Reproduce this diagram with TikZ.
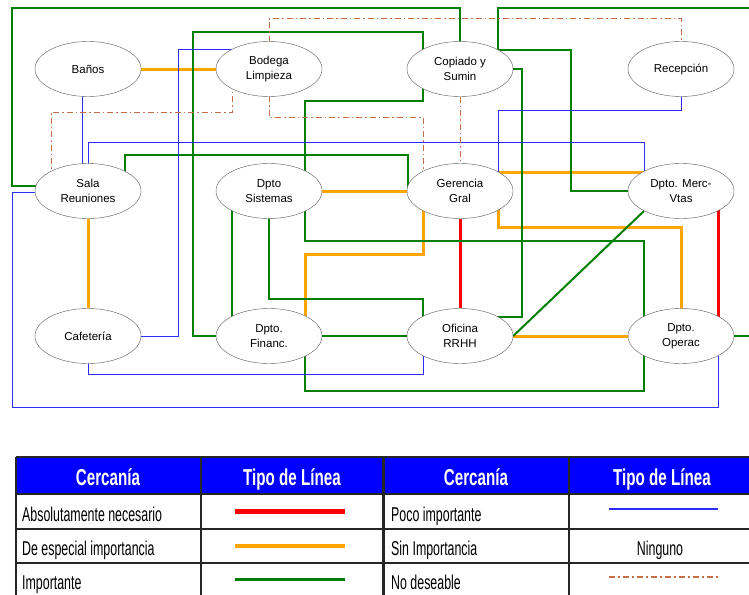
\documentclass[tikz,border=0pt]{standalone}
\usepackage{fontspec}
\setmainfont{Liberation Sans}
\newfontfamily\tablefont[FakeStretch=0.62]{Liberation Sans}
\newfontfamily\headfont[FakeStretch=0.66]{Liberation Sans}
\usetikzlibrary{shapes.geometric,calc}
\pgfdeclarelayer{bg}
\pgfsetlayers{bg,main}

\definecolor{necred}{RGB}{255,0,0}
\definecolor{espor}{RGB}{255,165,0}
\definecolor{impgreen}{RGB}{0,128,0}
\definecolor{pocoblue}{RGB}{45,45,255}
\definecolor{nodbrown}{RGB}{196,110,70}
\definecolor{headblue}{RGB}{0,0,255}

\begin{document}
\begin{tikzpicture}
  [x=1pt, y=-1pt,
   area/.style={ellipse, draw=black!65, fill=white, minimum width=106pt,
     minimum height=55pt, inner sep=0pt, align=center,
     font=\fontsize{11.5}{15}\selectfont},
   necesario/.style={necred, line width=3pt},
   especial/.style={espor, line width=3pt},
   importante/.style={impgreen, line width=2pt},
   poco/.style={pocoblue, line width=1pt},
   nodeseable/.style={nodbrown, line width=1pt,
     dash pattern=on 6pt off 3pt on 1.5pt off 3pt},
   celda/.style={anchor=base west, inner sep=0pt,
     font=\tablefont\fontsize{20}{22}\selectfont},
   cabeza/.style={anchor=base, inner sep=0pt, text=white,
     font=\headfont\bfseries\fontsize{23}{25}\selectfont}]
  \useasboundingbox (0,0) rectangle (749,594);

  \node[area] (banos)     at (88,69)   {Baños};
  \node[area] (bodega)    at (269,69)  {Bodega\\Limpieza};
  \node[area] (copiado)   at (460,69)  {Copiado y\\Sumin};
  \node[area] (recepcion) at (681,69)  {Recepción};
  \node[area] (sala)      at (88,191)  {Sala\\Reuniones};
  \node[area] (sistemas)  at (269,191) {Dpto\\Sistemas};
  \node[area] (gerencia)  at (460,191) {Gerencia\\Gral};
  \node[area] (merc)      at (681,191) {Dpto. Merc-\\Vtas};
  \node[area] (cafeteria) at (88,336)  {Cafetería};
  \node[area] (financ)    at (269,336) {Dpto.\\Financ.};
  \node[area] (rrhh)      at (460,336) {Oficina\\RRHH};
  \node[area] (operac)    at (681,336) {Dpto.\\Operac};

  \begin{pgfonlayer}{bg}
    % absolutely necessary
    \draw[necesario] (gerencia) -- (rrhh);
    \draw[necesario] ($(merc.center)+(37,0)$) -- ($(operac.center)+(37,0)$);
    % special importance
    \draw[especial] (banos) -- (bodega);
    \draw[especial] (sala) -- (cafeteria);
    \draw[especial] (sistemas) -- (gerencia);
    \draw[especial] (rrhh) -- (operac);
    \draw[especial] ($(gerencia.center)+(0,-19)$) -- ($(merc.center)+(0,-19)$);
    \draw[especial] (gerencia.center) ++(-37,0) |- (305,254) -- ($(financ.center)+(36,0)$);
    \draw[especial] (gerencia.center) ++(38,0) |- (681,227) -- (operac.center);
    % important
    \draw[importante] (sala.center) ++(0,-5) -| (12,8) -| (copiado.center);
    \draw[importante] (sala.center) ++(37,0) |- (408,155) -- ($(gerencia.center)+(-52,0)$);
    \draw[importante] (financ.center) -| (193,32) -| ($(copiado.center)+(-37,0)$);
    \draw[importante] (sistemas.center) ++(36,0) |- (423,101) -- ($(copiado.center)+(-37,0)$);
    \draw[importante] (sistemas.center) ++(-37,0) -- ($(financ.center)+(-37,0)$);
    \draw[importante] (sistemas.center) |- (423,299) -- ($(rrhh.center)+(-37,0)$);
    \draw[importante] (sistemas.center) ++(36,0) |- (644,241) -- ($(operac.center)+(-37,0)$);
    \draw[importante] (copiado.center) ++(0,-19) -| (571,191) -- (merc.center);
    \draw[importante] (copiado.center) ++(38,0) |- (760,8) |- (operac.center);
    \draw[importante] (copiado.center) -| (522,317) -- ($(rrhh.center)+(0,-19)$);
    \draw[importante] (financ) -- (rrhh);
    \draw[importante] ($(merc.center)+(-37,20)$) -- (rrhh.east);
    \draw[importante] (financ.center) ++(36,0) |- (644,391) -- ($(operac.center)+(-37,0)$);
    % little importance
    \draw[poco] (banos.center) ++(-6,0) -- ($(sala.center)+(-6,0)$);
    \draw[poco] (sala.center) |- (644,142) -- ($(merc.center)+(-37,0)$);
    \draw[poco] (sala.center) ++(0,1) -| (12,407) -| ($(operac.center)+(37,0)$);
    \draw[poco] (cafeteria.center) -| (178,50) -- ($(bodega.center)+(0,-19)$);
    \draw[poco] (cafeteria.center) |- (423,374) -- ($(rrhh.center)+(-37,0)$);
    \draw[poco] (recepcion.center) |- (498,110) -- ($(gerencia.center)+(38,0)$);
    % not desirable
    \draw[nodeseable] (sala.center) ++(-37,0) |- (232,112) -- ($(bodega.center)+(-37,0)$);
    \draw[nodeseable] (bodega.center) |- (681,19) -- (recepcion.center);
    \draw[nodeseable] (bodega.center) |- (423,117) -- ($(gerencia.center)+(-37,0)$);
    \draw[nodeseable] (copiado) -- (gerencia);
  \end{pgfonlayer}

  % legend table
  \fill[headblue] (16,457) rectangle (760,494);
  \draw[black!85, line width=1.2pt] (16,529) -- (760,529) (16,563) -- (760,563);
  \draw[black!85, line width=1.2pt] (16,457) -- (16,600) (201,457) -- (201,600)
    (569,457) -- (569,600);
  \draw[black!85, line width=3pt] (383.5,457) -- (383.5,600);
  \draw[black!85, line width=2.5pt] (16,457) -- (760,457) (16,494) -- (760,494);

  \node[cabeza] (cer1) at (108,485) {Cercanía};
  \node[cabeza] (tip1) at (292,485) {Tipo de Línea};
  \node[cabeza] (cer2) at (476,485) {Cercanía};
  \node[cabeza] (tip2) at (662,485) {Tipo de Línea};

  \node[celda] (abs)  at (22,521)  {Absolutamente necesario};
  \node[celda] (esp)  at (22,555)  {De especial importancia};
  \node[celda] (imp)  at (22,589)  {Importante};
  \node[celda] (poc)  at (391,521) {Poco importante};
  \node[celda] (sin)  at (391,555) {Sin Importancia};
  \node[celda] (nod)  at (391,589) {No deseable};
  \node[celda, anchor=base] (ninguno) at (660,555) {Ninguno};

  \draw[necred, line width=5pt] (235,511) -- (345,511);
  \draw[espor, line width=4.5pt] (235,546) -- (345,546);
  \draw[impgreen, line width=3pt] (235,579) -- (345,579);
  \draw[pocoblue, line width=1.8pt] (609,509) -- (718,509);
  \draw[nodbrown, line width=2.5pt, dash pattern=on 6pt off 3pt on 2pt off 3pt]
    (609,577) -- (718,577);
\end{tikzpicture}
\end{document}
